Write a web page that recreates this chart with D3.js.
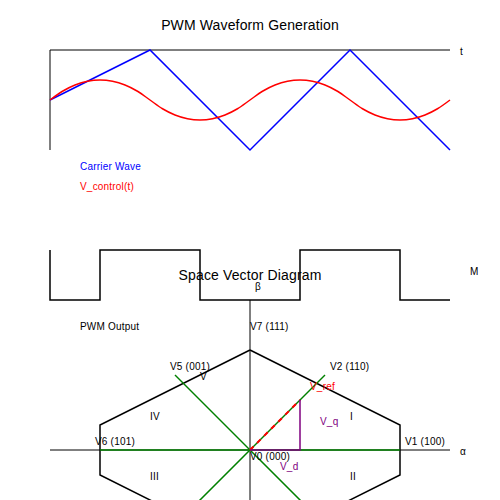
<!DOCTYPE html>
<html>
<head>
<meta charset="utf-8">
<title>PWM and Space Vector</title>
<script src="https://d3js.org/d3.v7.min.js"></script>
<style>
  html, body { margin: 0; padding: 0; background: #fff; }
  svg { display: block; }
  text { font-family: "Liberation Sans", Arial, sans-serif; font-size: 10px; fill: #000; }
</style>
</head>
<body>

<div id="chart"></div>

<script>
  // waveform data, time runs 0..8
  const carrierTime = [0, 2, 4, 6, 8];
  const carrierValues = [0, 1, -1, 1, -1];
  const controlValues = [
    0, 0.175, 0.3, 0.375, 0.4, 0.375, 0.3, 0.175,
    0, -0.175, -0.3, -0.375, -0.4, -0.375, -0.3, -0.175,
    0, 0.175, 0.3, 0.375, 0.4, 0.375, 0.3, 0.175,
    0, -0.175, -0.3, -0.375, -0.4, -0.375, -0.3, -0.175,
    0
  ];
  const pwmTime = [0, 0, 1, 1, 3, 3, 5, 5, 7, 7, 8];
  const pwmValues = [1, 0, 0, 1, 1, 0, 0, 1, 1, 0, 0];

  // space vector data, alpha / beta
  const hexAlpha = [0, 1, 1, 0, -1, -1];
  const hexBeta = [1, 0.25, -0.25, -1, -0.25, 0.25];
  const spokeAlpha = [1, 0.5, -0.5, -1, -0.5, 0.5];
  const spokeBeta = [0, 0.75, 0.75, 0, -0.75, -0.75];
  const refAlpha = 1 / 3;
  const refBeta = 0.5;

  const vectorNames = ["V1 (100)", "V2 (110)", "V5 (001)", "V6 (101)", "V7 (111)", "V0 (000)"];
  const sectorNames = ["I", "II", "III", "IV", "V"];

  const svg = d3.select("#chart").append("svg")
    .attr("width", 500)
    .attr("height", 500);

  const x = d3.scaleLinear().domain([0, 8]).range([50, 450]);
  const yCarrier = d3.scaleLinear().domain([-1, 1]).range([150, 50]);
  const yPwm = d3.scaleLinear().domain([0, 1]).range([300, 250]);
  const a = d3.scaleLinear().domain([-1, 1]).range([100, 400]);
  const b = d3.scaleLinear().domain([-1, 1]).range([550, 350]);

  function addPath(pts, color, width, curve) {
    const line = d3.line().x(d => d[0]).y(d => d[1]);
    if (curve) line.curve(curve);
    return svg.append("path")
      .attr("d", line(pts))
      .attr("fill", "none")
      .attr("stroke", color)
      .attr("stroke-width", width);
  }

  // letter spacing makes up for the wider hinted glyphs of the reference
  function addText(str, px, py, color, size, anchor) {
    svg.append("text")
      .attr("x", px)
      .attr("y", py)
      .attr("text-anchor", anchor || "start")
      .style("font-size", (size || 10) + "px")
      .style("letter-spacing", size ? "0.14px" : "0.2px")
      .style("fill", color || "#000")
      .text(str);
  }

  // Top panel
  addText("PWM Waveform Generation", 250, 30, "#000", 14, "middle");
  addPath([[x(0), yCarrier(-1)], [x(0), yCarrier(1)], [x(8), yCarrier(1)]], "#000", 1);
  addText("t", 460, 55);
  addPath(carrierTime.map((t, i) => [x(t), yCarrier(carrierValues[i])]), "blue", 1.5);
  addPath(controlValues.map((v, i) => [x(i / 4), yCarrier(v)]), "red", 1.5, d3.curveCatmullRom);
  addText("Carrier Wave", 80, 170, "blue");
  addText("V_control(t)", 80, 190, "red");

  // PWM output
  addPath(pwmTime.map((t, i) => [x(t), yPwm(pwmValues[i])]), "#000", 1.5);
  addText("M", 470, 275);
  addText("PWM Output", 80, 330);

  // Space vector diagram
  addText("Space Vector Diagram", 250, 280, "#000", 14, "middle");
  addText("β", 255, 290);
  addText("α", 460, 455);
  addPath([[50, b(0)], [450, b(0)]], "#000", 1);
  addPath([[a(0), 300], [a(0), 500]], "#000", 1);

  addPath(hexAlpha.concat(hexAlpha[0]).map((v, i) => {
    const j = i % hexBeta.length;
    return [a(v), b(hexBeta[j])];
  }), "#000", 1.5);

  spokeAlpha.forEach((v, i) => {
    addPath([[a(0), b(0)], [a(v), b(spokeBeta[i])]], "green", 1.5);
  });

  addPath([[a(0), b(0)], [a(refAlpha), b(refBeta)]], "red", 2).attr("stroke-dasharray", "5,5");
  addPath([[a(0), b(0)], [a(refAlpha), b(0)], [a(refAlpha), b(refBeta)]], "purple", 1.5);

  addText("V_ref", 310, 390, "red");
  addText("V_q", 320, 425, "purple");
  addText("V_d", 280, 470, "purple");

  const vectorPos = [[405, 445], [330, 370], [170, 370], [95, 445], [250, 330], [250, 460]];
  vectorNames.forEach((n, i) => addText(n, vectorPos[i][0], vectorPos[i][1]));

  const sectorPos = [[350, 420], [350, 480], [150, 480], [150, 420], [200, 380]];
  sectorNames.forEach((n, i) => addText(n, sectorPos[i][0], sectorPos[i][1]));
</script>

</body>
</html>
